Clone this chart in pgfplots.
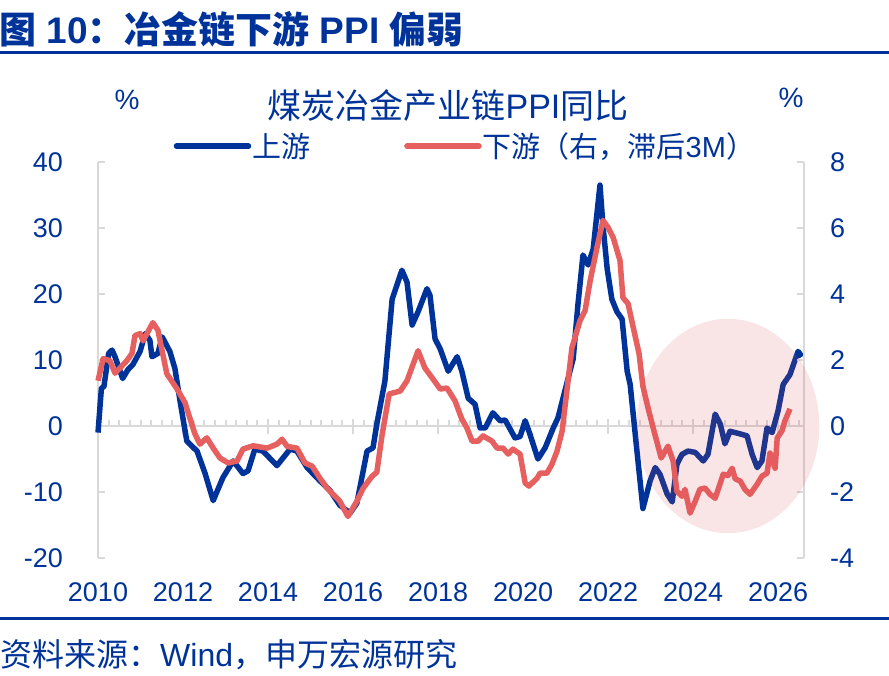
\documentclass[border=0pt]{standalone}
\usepackage{fontspec}
\setmainfont{Liberation Sans}
\newfontfamily\cjk{Noto Sans CJK SC}
\usepackage{pgfplots}
\pgfplotsset{compat=1.18}
\definecolor{navy}{RGB}{0,51,153}
\definecolor{lred}{RGB}{230,96,96}
\definecolor{axgray}{RGB}{217,217,217}
\definecolor{ellc}{RGB}{220,70,80}
\begin{document}
\begin{tikzpicture}
\useasboundingbox (0,0) rectangle (889bp,676bp);
% title
\node[anchor=base west, inner sep=0pt, text=navy, font=\fontsize{37bp}{40bp}\selectfont\bfseries] at (-1bp,632bp) {{\cjk 图} 10{\cjk ：冶金链下游} PPI {\cjk 偏弱}};
\draw[navy, line width=3bp] (0,623bp) -- (889bp,623bp);
\draw[navy, line width=3bp] (0,57bp) -- (889bp,57bp);
\node[anchor=base west, inner sep=0pt, text=navy, font=\fontsize{32bp}{34bp}\selectfont] at (0bp,10bp) {{\cjk 资料来源：}Wind{\cjk ，申万宏源研究}};
% chart title
\node[anchor=base, inner sep=0pt, text=navy, font=\fontsize{34bp}{38bp}\selectfont] at (448bp,557bp) {{\cjk 煤炭冶金产业链}PPI{\cjk 同比}};
\node[text=navy, inner sep=0pt, font=\fontsize{28bp}{30bp}\selectfont] at (127bp,576bp) {\%};
\node[text=navy, inner sep=0pt, font=\fontsize{28bp}{30bp}\selectfont] at (791bp,578bp) {\%};
% zero line with ticks
\draw[axgray, line width=2.5bp] (98bp,250bp) -- (804bp,250bp);
\foreach \q in {1,...,66} {\draw[axgray, line width=2bp] ({98bp+10.625bp*\q},250bp) -- ++(0,6bp);}
\foreach \q in {0,...,8} {\draw[axgray, line width=2.5bp] ({98bp+85bp*\q},242bp) -- ++(0,15bp);}
\begin{axis}[
  scale only axis, width=706bp, height=396bp,
  at={(98bp,118bp)}, anchor=south west,
  xmin=2010, xmax=2026.61, ymin=-20, ymax=40,
  axis x line*=bottom, axis y line*=left,
  x axis line style={draw=none},
  y axis line style={axgray, line width=2.5bp, -},
  xtick={2010,2012,...,2026},
  x tick style={draw=none},
  ytick={-20,-10,...,40},
  y tick style={axgray, line width=2.5bp},
  tick align=inside, major tick length=7bp,
  /pgf/number format/assume math mode=true,
  /pgf/number format/1000 sep={},
  xticklabel style={font=\fontsize{27bp}{30bp}\selectfont, text=navy, anchor=center, inner sep=0pt, yshift=-34bp},
  yticklabel style={font=\fontsize{27bp}{30bp}\selectfont, text=navy, anchor=east, inner sep=0pt, xshift=-35bp},
  clip=false,
]
\addplot[navy, line width=5.5bp, line join=round] coordinates {
(2010.00,-1.0)(2010.08,5.7)(2010.14,6.0)(2010.25,11.0)(2010.33,11.5)(2010.40,10.5)
(2010.58,7.2)(2010.70,8.5)(2010.82,9.3)(2010.99,11.3)(2011.11,14.0)(2011.22,13.0)
(2011.27,10.5)(2011.41,11.0)(2011.51,13.5)(2011.69,11.3)(2011.81,8.7)(2011.93,3.8)
(2012.09,-2.3)(2012.33,-3.8)(2012.52,-7.2)(2012.71,-11.3)(2012.94,-7.8)(2013.18,-5.3)
(2013.41,-7.2)(2013.53,-6.8)(2013.69,-3.5)(2013.88,-3.8)(2014.21,-6.0)(2014.52,-3.5)
(2014.68,-3.8)(2014.92,-6.3)(2015.22,-8.3)(2015.46,-9.8)(2015.69,-12.0)(2015.93,-13.2)
(2016.09,-11.7)(2016.33,-3.8)(2016.47,-3.3)(2016.56,0.3)(2016.75,6.8)(2016.92,19.2)
(2017.15,23.6)(2017.27,21.8)(2017.39,15.3)(2017.53,17.3)(2017.74,20.8)(2017.81,19.8)
(2017.93,13.2)(2018.05,11.7)(2018.24,8.3)(2018.45,10.5)(2018.56,8.3)(2018.71,4.2)
(2018.87,3.3)(2018.99,-0.3)(2019.11,-0.3)(2019.29,2.0)(2019.46,0.8)(2019.58,0.9)
(2019.81,-1.8)(2019.93,-1.6)(2020.05,0.8)(2020.16,-1.2)(2020.35,-5.0)(2020.52,-3.3)
(2020.71,-0.3)(2020.82,1.2)(2020.94,4.2)(2021.18,10.2)(2021.29,18.3)(2021.41,25.9)
(2021.53,24.4)(2021.65,26.8)(2021.81,36.5)(2021.88,30.4)(2021.98,23.8)(2022.09,19.2)
(2022.21,17.3)(2022.33,16.2)(2022.45,8.3)(2022.52,6.3)(2022.68,-3.8)(2022.82,-12.5)
(2022.99,-8.3)(2023.11,-6.3)(2023.22,-7.3)(2023.39,-10.3)(2023.51,-11.5)(2023.62,-5.8)
(2023.74,-4.3)(2023.88,-3.8)(2024.05,-4.0)(2024.24,-5.3)(2024.35,-4.3)(2024.52,1.8)
(2024.64,0.3)(2024.75,-2.7)(2024.87,-0.8)(2025.11,-1.2)(2025.27,-1.5)(2025.39,-4.3)
(2025.51,-6.3)(2025.62,-5.3)(2025.74,-0.3)(2025.86,-1.0)(2026.00,2.3)(2026.12,6.3)
(2026.28,7.8)(2026.47,11.3)(2026.56,10.5)
};
\end{axis}
\begin{axis}[
  scale only axis, width=706bp, height=396bp,
  at={(98bp,118bp)}, anchor=south west,
  xmin=2010, xmax=2026.61, ymin=-4, ymax=8,
  axis x line=none, axis y line*=right,
  y axis line style={axgray, line width=2.5bp, -},
  ytick={-4,-2,...,8},
  y tick style={axgray, line width=2.5bp},
  tick align=inside, major tick length=7bp,
  /pgf/number format/assume math mode=true,
  yticklabel style={font=\fontsize{27bp}{30bp}\selectfont, text=navy, anchor=west, inner sep=0pt, xshift=26bp},
  clip=false,
  legend columns=2,
  legend style={at={(0.107,1.040)}, anchor=west, draw=none, fill=none, inner sep=0pt,
    nodes={inner sep=1bp, text=navy},
    font=\fontsize{29bp}{30bp}\selectfont,
    /tikz/every even column/.append style={column sep=93bp}},
  legend cell align=left,
  legend image code/.code={\draw[#1, line cap=round] (0bp,0bp) -- (72bp,0bp);},
]
\addlegendimage{navy, line width=5.5bp}
\addlegendentry{{\cjk 上游}}
\addplot[lred, line width=5.5bp, line join=round] coordinates {
(2010.00,1.37)(2010.12,2.04)(2010.28,1.98)(2010.40,1.6)(2010.68,1.98)(2010.80,2.2)
(2010.87,2.74)(2010.99,2.8)(2011.06,2.58)(2011.29,3.13)(2011.41,2.9)(2011.62,1.58)
(2011.86,1.12)(2012.05,0.7)(2012.16,0.24)(2012.28,-0.24)(2012.40,-0.55)(2012.56,-0.36)
(2012.71,-0.67)(2012.87,-0.97)(2013.06,-1.12)(2013.27,-1.06)(2013.41,-0.70)(2013.65,-0.60)
(2013.98,-0.67)(2014.21,-0.55)(2014.33,-0.40)(2014.45,-0.62)(2014.68,-0.67)(2014.87,-1.12)
(2015.04,-1.22)(2015.22,-1.58)(2015.39,-1.88)(2015.53,-2.07)(2015.69,-2.28)(2015.88,-2.74)
(2016.09,-2.28)(2016.24,-1.88)(2016.45,-1.52)(2016.56,-1.40)(2016.68,-0.3)(2016.85,0.97)
(2017.11,1.06)(2017.27,1.37)(2017.53,2.28)(2017.69,1.76)(2017.86,1.46)(2018.05,1.12)
(2018.21,1.15)(2018.40,0.76)(2018.56,0.21)(2018.68,-0.06)(2018.80,-0.46)(2018.94,-0.46)
(2019.06,-0.30)(2019.27,-0.46)(2019.39,-0.67)(2019.53,-0.67)(2019.65,-0.85)(2019.76,-0.70)
(2019.93,-0.85)(2020.05,-1.73)(2020.14,-1.82)(2020.33,-1.58)(2020.40,-1.43)(2020.56,-1.43)
(2020.68,-1.16)(2020.80,-0.76)(2020.92,-0.15)(2021.04,1.16)(2021.15,2.37)(2021.34,3.19)
(2021.46,3.5)(2021.58,4.41)(2021.74,5.41)(2021.88,6.23)(2022.00,6.02)(2022.12,5.71)
(2022.28,5.02)(2022.35,3.89)(2022.47,3.71)(2022.59,3.0)(2022.73,2.19)(2022.82,1.20)
(2022.94,0.55)(2023.08,-0.15)(2023.25,-0.97)(2023.41,-0.61)(2023.53,-1.06)(2023.62,-1.98)
(2023.74,-2.13)(2023.81,-1.92)(2023.93,-2.64)(2024.05,-2.28)(2024.16,-1.92)(2024.28,-1.88)
(2024.40,-2.07)(2024.52,-2.19)(2024.71,-1.46)(2024.82,-1.50)(2024.92,-1.28)(2024.99,-1.60)
(2025.11,-1.67)(2025.22,-1.92)(2025.34,-2.07)(2025.51,-1.76)(2025.62,-1.52)(2025.74,-1.43)
(2025.81,-0.82)(2025.93,-1.28)(2025.98,-0.36)(2026.09,-0.15)(2026.16,0.15)(2026.28,0.52)
};
\addlegendentry{{\cjk 下游（右，滞后}3M{\cjk ）}}
\fill[ellc, opacity=0.14] (axis cs:2024.82,0) ellipse [x radius=2.15, y radius=3.25];
\end{axis}
\end{tikzpicture}
\end{document}
